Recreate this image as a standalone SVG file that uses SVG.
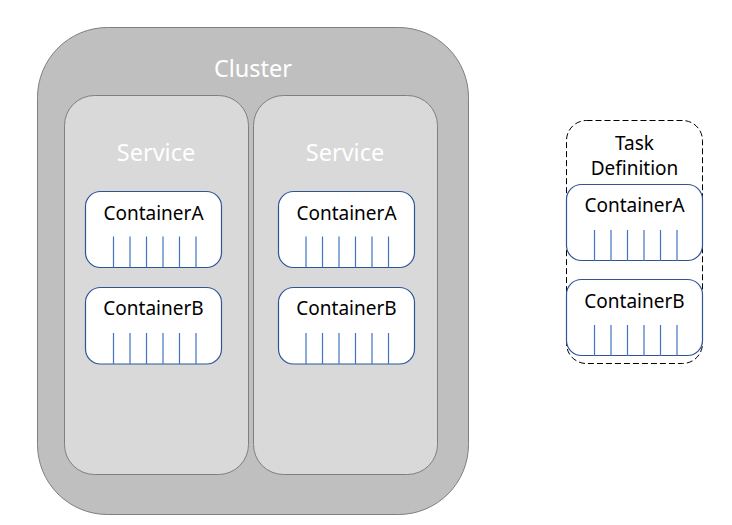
<svg xmlns="http://www.w3.org/2000/svg" width="732" height="525" viewBox="0 0 732 525">
<style>
text{font-family:"Noto Sans","Open Sans","Liberation Sans",sans-serif;text-anchor:middle}
.cl{fill:#BFBFBF;stroke:#7F7F7F;stroke-width:1}
.sv{fill:#D9D9D9;stroke:#7F7F7F;stroke-width:1}
.ct{fill:#FFFFFF;stroke:#2F5597;stroke-width:1.2}
.td{fill:#FFFFFF;stroke:#000;stroke-width:1;stroke-dasharray:6 3}
.ln{stroke:#4472C4;stroke-width:1.2}
.wt{fill:#FFFFFF;font-size:23.5px}
.bk{fill:#000;font-size:19px}
</style>
<defs>
<g id="lines">
<path class="ln" d="M0 0V31M16.5 0V31M33 0V31M49.5 0V31M66 0V31M82.5 0V31"/>
</g>
</defs>
<g id="cluster">
<rect class="cl" x="37.5" y="27.5" width="431" height="487" rx="70"/>
<text class="wt" x="253" y="77">Cluster</text>
</g>
<g id="service1">
<rect class="sv" x="64.5" y="95.5" width="184" height="379" rx="30"/>
<text class="wt" x="156" y="161">Service</text>
</g>
<g id="service2">
<rect class="sv" x="253.5" y="95.5" width="184" height="379" rx="30"/>
<text class="wt" x="345" y="161">Service</text>
</g>
<g id="s1-containerA">
<rect class="ct" x="85.5" y="191.5" width="136" height="76" rx="15"/>
<text class="bk" x="153.5" y="220">ContainerA</text>
<use href="#lines" x="113.5" y="236.5"/>
</g>
<g id="s1-containerB">
<rect class="ct" x="85.5" y="287.5" width="136" height="76.5" rx="15"/>
<text class="bk" x="153.5" y="315">ContainerB</text>
<use href="#lines" x="113.5" y="333"/>
</g>
<g id="s2-containerA">
<rect class="ct" x="278.5" y="191.5" width="136" height="76" rx="15"/>
<text class="bk" x="346.5" y="220">ContainerA</text>
<use href="#lines" x="306" y="236.5"/>
</g>
<g id="s2-containerB">
<rect class="ct" x="278.5" y="287.5" width="136" height="76.5" rx="15"/>
<text class="bk" x="346.5" y="315">ContainerB</text>
<use href="#lines" x="306" y="333"/>
</g>
<g id="task-definition">
<rect class="td" x="566.5" y="120.5" width="136" height="243" rx="20"/>
<text class="bk" x="634.5" y="150">Task</text>
<text class="bk" x="634.5" y="175">Definition</text>
</g>
<g id="td-containerA">
<rect class="ct" x="566.5" y="184.5" width="136" height="76" rx="15"/>
<text class="bk" x="634.5" y="212">ContainerA</text>
<use href="#lines" x="594.5" y="230"/>
</g>
<g id="td-containerB">
<rect class="ct" x="566.5" y="279.5" width="136" height="76" rx="15"/>
<text class="bk" x="634.5" y="308">ContainerB</text>
<use href="#lines" x="594.5" y="325"/>
</g>
<g id="connectors"></g>
</svg>
